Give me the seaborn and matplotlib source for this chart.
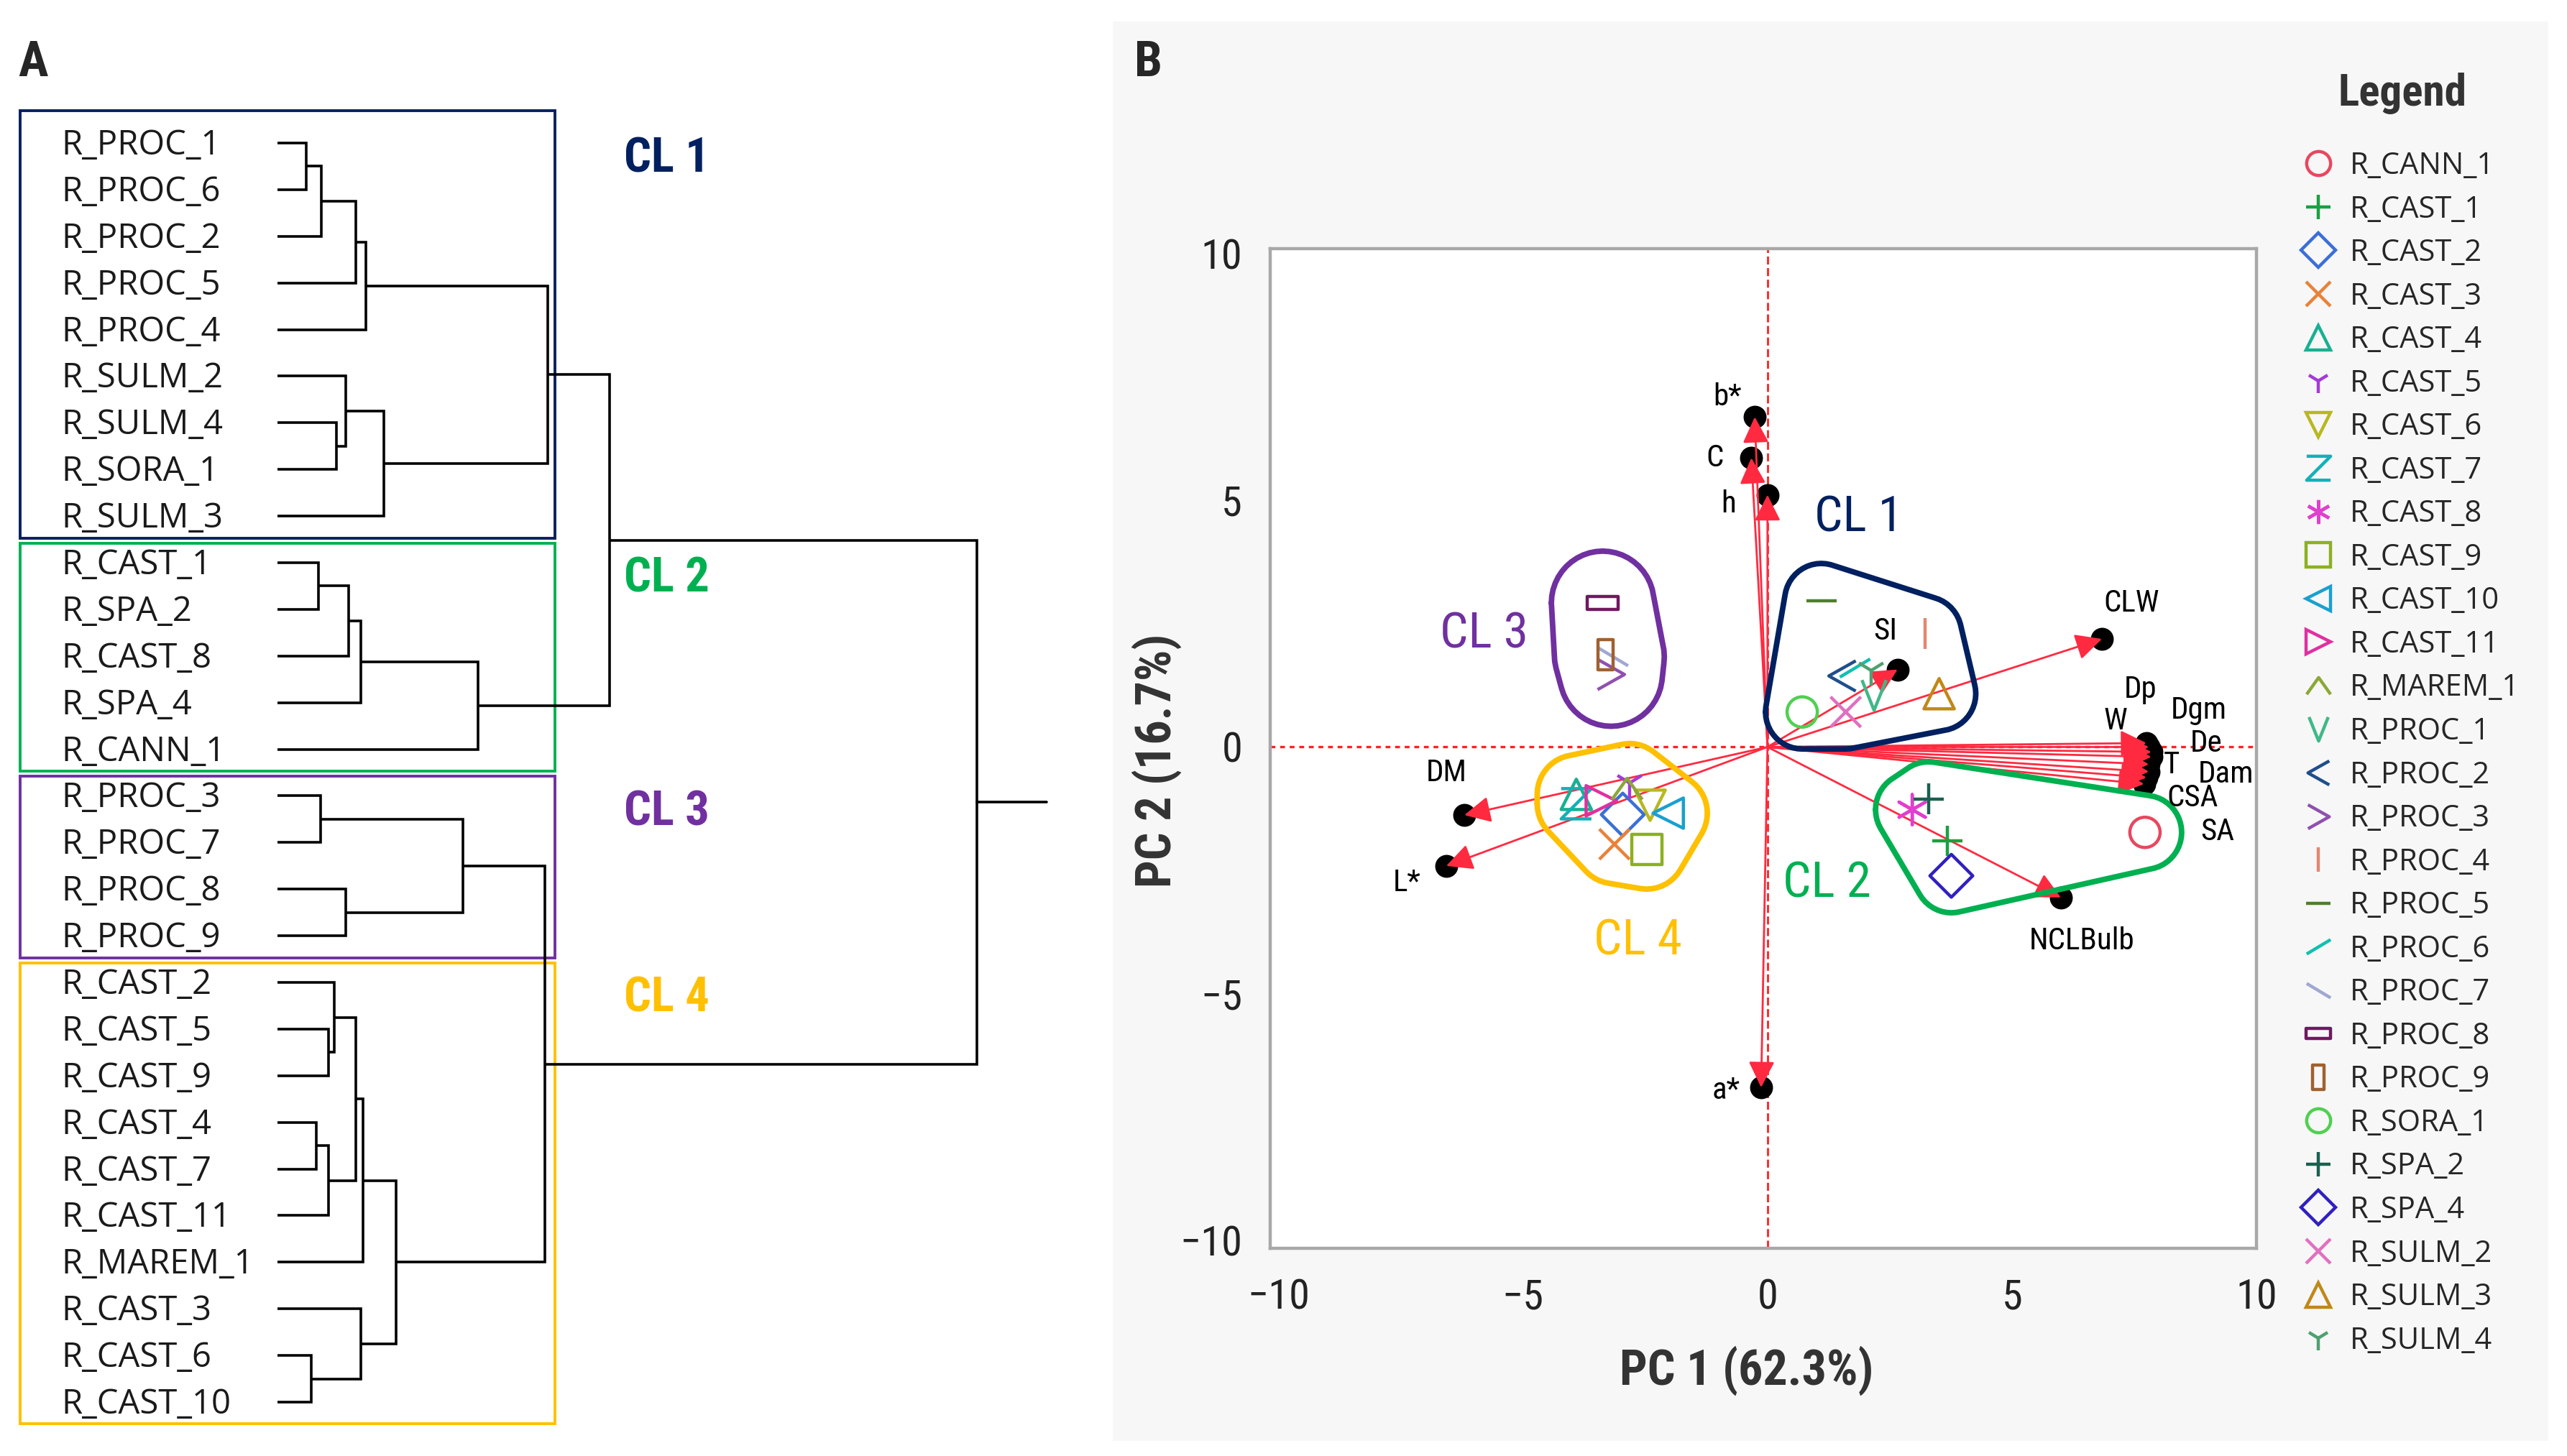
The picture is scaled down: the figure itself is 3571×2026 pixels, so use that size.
import numpy as np
import pandas as pd
import matplotlib
matplotlib.use("Agg")
import matplotlib.pyplot as plt
from matplotlib import font_manager
from matplotlib.patches import Rectangle
from matplotlib.lines import Line2D
from matplotlib.markers import MarkerStyle
from matplotlib.path import Path
from matplotlib.ticker import MultipleLocator
import seaborn as sns

# ---------------- data: dendrogram (panel A) ----------------
leaves = ["R_PROC_1", "R_PROC_6", "R_PROC_2", "R_PROC_5", "R_PROC_4",
          "R_SULM_2", "R_SULM_4", "R_SORA_1", "R_SULM_3",
          "R_CAST_1", "R_SPA_2", "R_CAST_8", "R_SPA_4", "R_CANN_1",
          "R_PROC_3", "R_PROC_7", "R_PROC_8", "R_PROC_9",
          "R_CAST_2", "R_CAST_5", "R_CAST_9", "R_CAST_4", "R_CAST_7",
          "R_CAST_11", "R_MAREM_1", "R_CAST_3", "R_CAST_6", "R_CAST_10"]
# merge k creates node 28 + k from nodes merge_a[k], merge_b[k] at height merge_h[k]
merge_a = [0, 28, 29, 30, 6, 5, 33, 31, 9, 36, 37, 38, 35,
           14, 16, 41, 19, 18, 21, 46, 45, 48, 26, 25, 49, 43, 40]
merge_b = [1, 2, 3, 4, 7, 32, 8, 34, 10, 11, 12, 13, 39,
           15, 17, 42, 20, 44, 22, 23, 47, 24, 27, 50, 51, 52, 53]
merge_h = [4.1, 6.3, 11.2, 12.6, 8.4, 9.8, 15.2, 38.6, 5.9, 10.2, 11.9, 28.7, 47.5,
           6.2, 9.8, 26.5, 7.3, 8.1, 5.5, 7.3, 11.2, 12.2, 4.8, 11.9, 17.0, 38.2, 100.0]

cluster_names = ["CL 1", "CL 2", "CL 3", "CL 4"]
cluster_sizes = [9, 5, 4, 10]
cluster_colors = ["#002060", "#00B050", "#7030A0", "#FFC000"]

# ---------------- data: PCA biplot (panel B) ----------------
groups = ["R_CANN_1", "R_CAST_1", "R_CAST_2", "R_CAST_3", "R_CAST_4", "R_CAST_5",
          "R_CAST_6", "R_CAST_7", "R_CAST_8", "R_CAST_9", "R_CAST_10", "R_CAST_11",
          "R_MAREM_1", "R_PROC_1", "R_PROC_2", "R_PROC_3", "R_PROC_4", "R_PROC_5",
          "R_PROC_6", "R_PROC_7", "R_PROC_8", "R_PROC_9", "R_SORA_1", "R_SPA_2",
          "R_SPA_4", "R_SULM_2", "R_SULM_3", "R_SULM_4"]
pc1 = [7.72, 3.68, -2.96, -3.13, -3.91, -2.82, -2.40, -3.91, 2.96, -2.47, -2.03, -3.40,
       -2.87, 2.18, 1.53, -3.20, 3.22, 1.10, 1.79, -3.16, -3.37, -3.31, 0.71, 3.29,
       3.76, 1.60, 3.51, 2.12]
pc2 = [-1.73, -1.90, -1.37, -1.97, -0.96, -0.73, -1.18, -1.15, -1.27, -2.08, -1.34, -1.09,
       -0.85, 1.05, 1.44, 1.47, 2.30, 2.97, 1.60, 1.83, 2.92, 1.87, 0.71, -1.05,
       -2.61, 0.71, 1.08, 1.55]
group_colors = ["#E8475F", "#1AA040", "#3B6FD6", "#E8823A", "#17B092", "#A43BD6",
                "#B8B820", "#14B0B8", "#E040D0", "#8BB020", "#1AA0D0", "#E030A0",
                "#8AA838", "#40B888", "#1F4E8C", "#9050B0", "#E08870", "#4E7F2A",
                "#10C0B0", "#A0A8D0", "#701860", "#A06030", "#50D050", "#1A6050",
                "#3020C0", "#E070C0", "#C08818", "#50A070"]

var_names = ["b*", "C", "h", "SI", "CLW", "W", "Dp", "Dgm", "De", "T", "Dam", "CSA", "SA",
             "NCLBulb", "DM", "L*", "a*"]
load_pc1 = [-0.26, -0.33, 0.00, 2.66, 6.84, 7.75, 7.80, 7.85, 7.85, 7.80, 7.80, 7.75, 7.70,
            6.00, -6.20, -6.57, -0.13]
load_pc2 = [6.69, 5.86, 5.11, 1.57, 2.19, 0.08, 0.00, -0.10, -0.20, -0.35, -0.50, -0.62, -0.75,
            -3.05, -1.38, -2.41, -6.90]
var_label_x = [-0.82, -1.08, -0.79, 2.41, 7.44, 7.12, 7.63, 8.82, 8.97, 8.26, 9.38, 8.70, 9.20,
               6.43, -6.56, -7.38, -0.85]
var_label_y = [7.09, 5.86, 4.92, 2.35, 2.91, 0.52, 1.17, 0.74, 0.07, -0.36, -0.55, -1.03, -1.72,
               -3.93, -0.52, -2.75, -6.97]

cl_label_x = [1.87, 1.21, -5.79, -2.65]
cl_label_y = [4.64, -2.77, 2.28, -3.93]


def open_path(verts, closed=False):
    codes = [Path.MOVETO] + [Path.LINETO] * (len(verts) - 1)
    if closed:
        verts = verts + [verts[0]]
        codes = codes + [Path.CLOSEPOLY]
    return Path(verts, codes)


marker_shapes = [
    "o", "+", "D", "x", "^", "1", "v",
    open_path([(-0.8, 0.8), (0.8, 0.8), (-0.8, -0.8), (0.8, -0.8)]),       # Z
    (6, 2, 0), "s", "<", ">",
    open_path([(-1, -0.7), (0, 0.7), (1, -0.7)]),                           # ^
    open_path([(-0.8, 1), (0, -1), (0.8, 1)]),                              # V
    open_path([(0.8, 0.9), (-0.8, 0), (0.8, -0.9)]),                        # <
    open_path([(-0.8, 0.9), (0.8, 0), (-0.8, -0.9)]),                       # >
    "|", "_",
    open_path([(-1, -0.6), (1, 0.6)]),                                      # /
    open_path([(-1, 0.6), (1, -0.6)]),                                      # \
    open_path([(-1, -0.42), (1, -0.42), (1, 0.42), (-1, 0.42)], True),      # wide rect
    open_path([(-0.5, -1), (0.5, -1), (0.5, 1), (-0.5, 1)], True),          # tall rect
    "o", "+", "D", "x", "^", "1",
]


def rounded_hull(xs, ys, pad, n=48):
    ang = np.linspace(0, 2 * np.pi, n, endpoint=False)
    px = (np.asarray(xs)[:, None] + pad * np.cos(ang)).ravel()
    py = (np.asarray(ys)[:, None] + pad * np.sin(ang)).ravel()
    pts = sorted(set(zip(np.round(px, 6), np.round(py, 6))))

    def cross(o, a, b):
        return (a[0] - o[0]) * (b[1] - o[1]) - (a[1] - o[1]) * (b[0] - o[0])

    lower, upper = [], []
    for p in pts:
        while len(lower) >= 2 and cross(lower[-2], lower[-1], p) <= 0:
            lower.pop()
        lower.append(p)
    for p in reversed(pts):
        while len(upper) >= 2 and cross(upper[-2], upper[-1], p) <= 0:
            upper.pop()
        upper.append(p)
    hull = lower[:-1] + upper[:-1]
    hull.append(hull[0])
    return [p[0] for p in hull], [p[1] for p in hull]


# ---------------- fonts ----------------
sns.set_theme(style="white")
available = {f.name for f in font_manager.fontManager.ttflist}
NARROW, NSCALE = "Liberation Sans", 0.86
for cand in ["Liberation Sans Narrow", "Roboto Condensed", "Arial Narrow"]:
    if cand in available:
        NARROW, NSCALE = cand, 1.0
        break
plt.rcParams['font.family'] = [NARROW, 'DejaVu Sans']
HUMAN = ["Open Sans", "DejaVu Sans"]


def ns(size):
    return size * NSCALE


# ---------------- figure ----------------
W, H, DPI = 3571, 2026, 200
fig = plt.figure(figsize=(W / DPI, H / DPI), dpi=DPI, facecolor="white")


def fx(px):
    return px / W


def fy(py):
    return 1 - py / H


# grey panel behind B
fig.add_artist(Rectangle((fx(1548), fy(2005)), fx(3545) - fx(1548), fy(30) - fy(2005),
                         transform=fig.transFigure, facecolor="#F7F7F7",
                         edgecolor="none", zorder=-1))

# ---- panel A: dendrogram ----
ax_a = fig.add_axes([0, 0, fx(1540), 1])
px_per_h = (1359 - 386) / 100
px_per_leaf = (1951 - 199) / 27
ax_a.set_xlim((0 - 386) / px_per_h, (1540 - 386) / px_per_h)
ax_a.set_ylim((H - 199) / px_per_leaf, (0 - 199) / px_per_leaf)
ax_a.axis("off")

node_h = [0.0] * len(leaves)
node_y = list(range(len(leaves)))
for a, b, h in zip(merge_a, merge_b, merge_h):
    ax_a.plot([node_h[a], h, h, node_h[b]], [node_y[a], node_y[a], node_y[b], node_y[b]],
              color="black", lw=1.3, solid_joinstyle="miter", solid_capstyle="butt")
    node_h.append(h)
    node_y.append((node_y[a] + node_y[b]) / 2)
ax_a.plot([node_h[-1], node_h[-1] + 10], [node_y[-1], node_y[-1]], color="black", lw=1.3)

label_x = (85 - 386) / px_per_h
for i, name in enumerate(leaves):
    ax_a.text(label_x, i + 0.05, name, ha="left", va="center", fontsize=17,
              family=HUMAN, color="#1a1a1a")

box_x0 = (28 - 386) / px_per_h
box_x1 = (772 - 386) / px_per_h
cl_x = (868 - 386) / px_per_h
leaf_cluster = {}
start = 0
for k, (name, size, color) in enumerate(zip(cluster_names, cluster_sizes, cluster_colors)):
    top = start - (0.69 if k == 0 else 0.42)
    bottom = start + size - 1 + 0.47
    ax_a.add_patch(Rectangle((box_x0, top), box_x1 - box_x0, bottom - top, fill=False,
                             edgecolor=color, lw=1.4, clip_on=False))
    ax_a.text(cl_x, start + 0.35, name, color=color, fontsize=ns(24), fontweight="bold",
              ha="left", va="center")
    for leaf in leaves[start:start + size]:
        leaf_cluster[leaf] = k
    start += size

fig.text(fx(46), fy(87), "A", fontsize=ns(25), fontweight="bold", ha="center", va="center")
fig.text(fx(1597), fy(87), "B", fontsize=ns(25), fontweight="bold", ha="center", va="center")

# ---- panel B: PCA biplot ----
ax_b = fig.add_axes([fx(1767), fy(1737), fx(3139) - fx(1767), fy(346) - fy(1737)])
ax_b.set_facecolor("white")
ax_b.set_xlim(-10.17, 10.0)
ax_b.set_ylim(-10.16, 10.1)

ax_b.axvline(0, color="#FF2020", lw=1.0, ls=(0, (4, 1.8)), zorder=1)
ax_b.axhline(0, color="#FF2020", lw=1.2, ls=(0, (2, 2)), zorder=1)

vec_red = "#FF2A40"
ax_b.scatter(load_pc1, load_pc2, s=110, color="black", zorder=2)
for vx, vy in zip(load_pc1, load_pc2):
    ax_b.annotate("", xy=(vx, vy), xytext=(0, 0),
                  arrowprops=dict(arrowstyle="-|>", color=vec_red, lw=1.0,
                                  mutation_scale=28, shrinkA=0, shrinkB=0), zorder=3)
for name, lx, ly in zip(var_names, var_label_x, var_label_y):
    ax_b.text(lx, ly, name, fontsize=ns(15.5), ha="center", va="center", color="black", zorder=6)

scores = pd.DataFrame({"group": groups, "PC1": pc1, "PC2": pc2})
scores["cluster"] = scores["group"].map(leaf_cluster)

for k, (name, color) in enumerate(zip(cluster_names, cluster_colors)):
    sub = scores[scores["cluster"] == k]
    pad = [0.75, 0.75, 1.05, 0.8][k]
    hx, hy = rounded_hull(sub["PC1"], sub["PC2"], pad)
    ax_b.plot(hx, hy, color=color, lw=2.8, zorder=4, solid_joinstyle="round")
    ax_b.text(cl_label_x[k], cl_label_y[k], name, color=color, fontsize=ns(25),
              ha="center", va="center", zorder=6)

marker_map = {g: MarkerStyle(m, fillstyle="none") for g, m in zip(groups, marker_shapes)}
palette = dict(zip(groups, group_colors))
sns.scatterplot(data=scores, x="PC1", y="PC2", hue="group", style="group",
                palette=palette, markers=marker_map, s=230, legend=False, ax=ax_b, zorder=5)
pts = ax_b.collections[-1]
pts.set_edgecolors(pts.get_facecolors())
pts.set_facecolors("none")
pts.set_linewidths(1.6)

ax_b.set_xticks([-10, -5, 0, 5, 10])
ax_b.set_yticks([-10, -5, 0, 5, 10])
ax_b.xaxis.set_minor_locator(MultipleLocator(2.5))
ax_b.yaxis.set_minor_locator(MultipleLocator(2.5))
ax_b.tick_params(axis="x", which="major", direction="out", length=10, width=1.2,
                 color="#A0A0A0", labelsize=ns(21), pad=5, labelcolor="#222222")
ax_b.tick_params(axis="y", which="major", direction="out", length=8, width=1.2,
                 color="#A0A0A0", labelsize=ns(21), pad=6, labelcolor="#222222")
ax_b.tick_params(which="minor", direction="out", length=4.5, width=1.0, color="#A0A0A0")
for sp in ax_b.spines.values():
    sp.set_color("#A8A8A8")
    sp.set_linewidth(1.6)

ax_b.set_xlabel("PC 1 (62.3%)", fontsize=ns(24.5), fontweight="bold", color="#333333")
ax_b.set_ylabel("PC 2 (16.7%)", fontsize=ns(24.5), fontweight="bold", color="#333333")
ax_b.xaxis.set_label_coords((2430 - 1767) / 1372, (1737 - 1907) / 1391)
ax_b.yaxis.set_label_coords((1609 - 1767) / 1372, (1737 - 1058) / 1391)
ax_b.xaxis.label.set_va("center")
ax_b.yaxis.label.set_va("center")

# legend
handles = [Line2D([], [], linestyle="none", marker=marker_map[g], markersize=12,
                  markeredgecolor=c, markerfacecolor="none", markeredgewidth=1.6,
                  color=c, label=g)
           for g, c in zip(groups, group_colors)]
fig.legend(handles=handles, loc="upper left", bbox_to_anchor=(fx(3200), fy(210)),
           frameon=False, prop={"family": HUMAN, "size": 15},
           labelspacing=0.445, handletextpad=0.45, handlelength=1.2,
           borderaxespad=0, borderpad=0)
fig.text(fx(3342), fy(130), "Legend", fontsize=ns(22), fontweight="bold",
         color="#333333", ha="center", va="center")

fig.savefig("out.png", dpi=DPI, facecolor="white")
